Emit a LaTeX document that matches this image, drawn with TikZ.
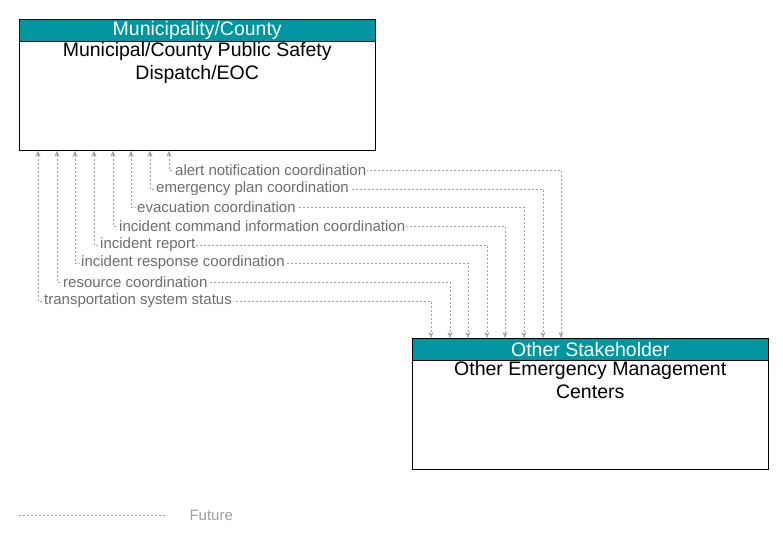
\documentclass[tikz,border=0pt]{standalone}
\usepackage{fontspec}
\setmainfont{Liberation Sans}
\usetikzlibrary{arrows.meta,positioning}
\definecolor{teal}{RGB}{0,150,160}
\definecolor{flowgray}{RGB}{160,160,160}
\definecolor{labelgray}{RGB}{110,110,110}
\tikzset{
  head/.style={draw=black, fill=teal, text=white, minimum width=356pt, minimum height=22pt, anchor=north west, font=\fontsize{19.5}{19.5}\selectfont, inner sep=0pt},
  body/.style={draw=black, minimum width=356pt, minimum height=109pt, anchor=north, inner sep=0pt},
  title/.style={align=center, anchor=north, font=\fontsize{19.5}{23}\selectfont, inner sep=1pt},
  flow/.style={flowgray, dash pattern=on 2pt off 2pt, line width=0.6pt, {Stealth[length=6pt,width=5pt]}-{Stealth[length=6pt,width=5pt]}},
  flowlabel/.style={text=labelgray, fill=white, inner sep=1pt, anchor=west, font=\fontsize{15}{15}\selectfont}
}
\begin{document}
\begin{tikzpicture}[x=1pt, y=-1pt]
  \useasboundingbox (0,0) rectangle (783,543);
  \node[head] (tophead) at (19,19) {Municipality/County};
  \node[body, below=0pt of tophead] (top) {};
  \node[title, below=0pt of tophead] (toptitle) {Municipal/County Public Safety\\Dispatch/EOC};
  \node[head] (bothead) at (412,338) {Other Stakeholder};
  \node[body, below=0pt of bothead] (bot) {};
  \node[title, below=0pt of bothead] (bottitle) {Other Emergency Management\\Centers};

  \foreach \xt/\xb/\y/\txt [count=\i] in {
    169/561/170/alert notification coordination,
    150/543/189/emergency plan coordination,
    131/524/207/evacuation coordination,
    113/505/226/incident command information coordination,
    94/487/245/incident report,
    75/468/263/incident response coordination,
    57/450/282/resource coordination,
    38/431/301/transportation system status} {
    \coordinate (t\i) at (top.south -| \xt,0);
    \coordinate (b\i) at (bothead.north -| \xb,0);
    \coordinate (r\i) at (\xt,\y);
    \draw[flow] (t\i) |- (r\i) -| (b\i);
    \node[flowlabel] (l\i) at ([xshift=5pt]r\i) {\txt};
  }

  \coordinate (f1) at (19,515);
  \coordinate (f2) at (166,515);
  \draw[flowgray, dash pattern=on 2pt off 2pt, line width=0.6pt] (f1) -- (f2);
  \node[text=flowgray, anchor=west, font=\fontsize{15}{15}\selectfont] (future) at (186,515) {Future};
\end{tikzpicture}
\end{document}
